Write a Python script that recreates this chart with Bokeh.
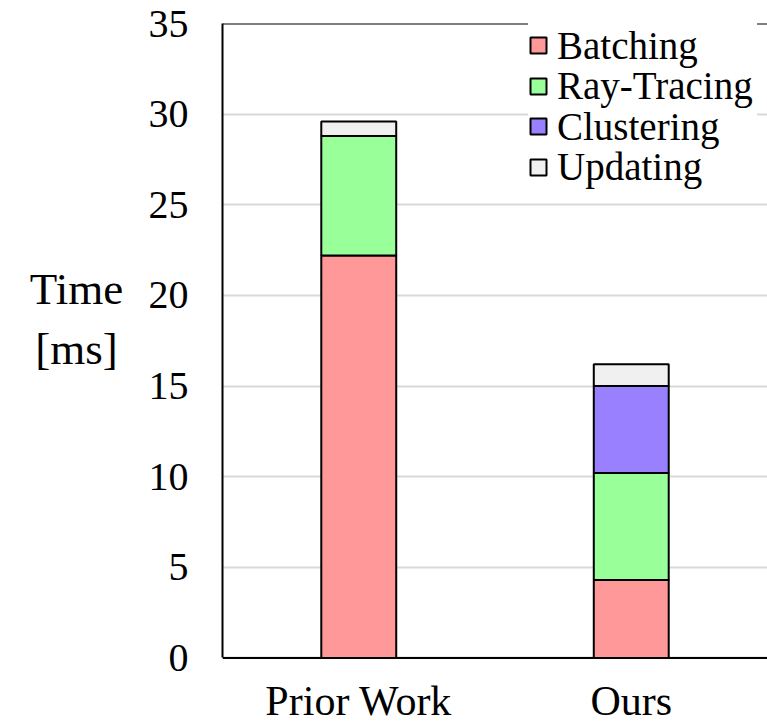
from bokeh.plotting import figure
from bokeh.layouts import row
from bokeh.models import (ColumnDataSource, FactorRange, Range1d, FixedTicker,
                          Legend, Span)
from bokeh.core.properties import value
from bokeh.embed import file_html
from bokeh.resources import INLINE

# ---- data ----
categories = ["Prior Work", "Ours"]
batching = [22.2, 4.3]
ray_tracing = [6.6, 5.9]
clustering = [0.0, 4.8]
updating = [0.8, 1.2]
series_names = ["Batching", "Ray-Tracing", "Clustering", "Updating"]
series_colors = ["#FF9999", "#99FF99", "#9980FF", "#F0F0F0"]
y_ticks = [0, 5, 10, 15, 20, 25, 30, 35]
y_min, y_max = 0, 35
y_title_lines = ["Time", "[ms]"]

FONT = "Liberation Serif"

# ---- layout constants ----
LEFT_W = 140          # width of the panel that holds the y-axis title
Y_LO = -3.62          # extra room under 0 for the category labels
CAT_LABEL_Y = -2.4    # vertical centre of the category labels (data units)

source = ColumnDataSource(data=dict(
    cat=categories, Batching=batching, RayTracing=ray_tracing,
    Clustering=clustering, Updating=updating))
stack_keys = ["Batching", "RayTracing", "Clustering", "Updating"]

# ---- main chart ----
p = figure(width=767 - LEFT_W, height=723, output_backend="svg",
           toolbar_location=None, x_axis_location=None,
           x_range=FactorRange(factors=categories, range_padding=0),
           y_range=Range1d(Y_LO, y_max),
           min_border_left=222 - LEFT_W, min_border_right=0,
           min_border_top=23, min_border_bottom=0)
p.outline_line_color = None
p.background_fill_color = "white"
p.border_fill_color = "white"

renderers = p.vbar_stack(stack_keys, x="cat", width=0.275, source=source,
                         fill_color=series_colors, line_color="black",
                         line_width=2)

# grids
p.xgrid.grid_line_color = None
p.xgrid.visible = False
p.ygrid.grid_line_color = "#d9d9d9"
p.ygrid.grid_line_width = 2
p.ygrid.ticker = FixedTicker(ticks=y_ticks)

# y axis
ya = p.yaxis[0]
ya.bounds = (y_min, y_max)
ya.ticker = FixedTicker(ticks=y_ticks)
ya.major_tick_line_color = None
ya.minor_tick_line_color = None
ya.major_tick_out = 0
ya.major_tick_in = 0
ya.axis_line_color = "black"
ya.axis_line_width = 2
ya.major_label_text_font = FONT
ya.major_label_text_font_size = "40px"
ya.major_label_text_color = "black"
ya.major_label_standoff = 34

# bottom (x axis) line
p.add_layout(Span(location=y_min, dimension="width", line_color="black",
                  line_width=2))

# category labels under the bars
lab_src = ColumnDataSource(data=dict(cat=categories,
                                     y=[CAT_LABEL_Y] * len(categories)))
p.text(x="cat", y="y", text="cat", source=lab_src,
       text_font=value(FONT), text_font_size=value("42px"),
       text_align="center", text_baseline="middle", text_color="black")

# legend: one row per legend so the row pitch matches the reference
ROW0, PITCH, ROW_H = 45.5, 40.5, 44.6
legends = []
for i, (name, r) in enumerate(zip(series_names, renderers)):
    center = ROW0 + i * PITCH
    lg = Legend(items=[(name, [r])],
                location=(306, 723 - center - ROW_H / 2),
                padding=0, margin=0, spacing=0,
                label_text_font=FONT, label_text_font_size="39px",
                label_text_color="black", label_standoff=9, label_width=200,
                glyph_width=20, glyph_height=20,
                border_line_color=None, background_fill_color="white",
                background_fill_alpha=1.0)
    legends.append(lg)
for lg in reversed(legends):
    p.add_layout(lg, "center")

# top border of the frame
p.add_layout(Span(location=y_max, dimension="width", line_color="black",
                  line_width=2))

# ---- left panel with the horizontal y-axis title ----
t = figure(width=LEFT_W, height=723, output_backend="svg",
           toolbar_location=None, x_axis_type=None, y_axis_type=None,
           x_range=Range1d(0, LEFT_W), y_range=Range1d(0, 723),
           min_border=0)
t.outline_line_color = None
t.grid.visible = False
t.background_fill_color = "white"
t.border_fill_color = "white"
title_src = ColumnDataSource(data=dict(x=[76, 76], y=[723 - 274, 723 - 336],
                                       text=y_title_lines))
t.text(x="x", y="y", text="text", source=title_src,
       text_font=value(FONT), text_font_size=value("45px"),
       text_align="center", text_baseline="middle", text_color="black")

layout = row(t, p, spacing=0)
open("out.html", "w").write(file_html(layout, INLINE))
